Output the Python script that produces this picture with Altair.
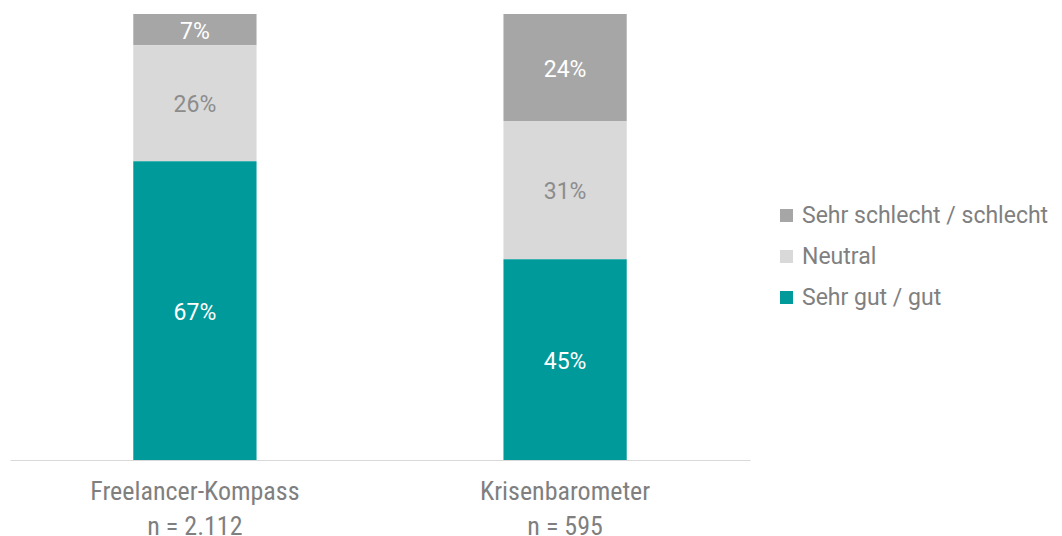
import altair as alt
import pandas as pd

groups = ["Freelancer-Kompass|n = 2.112", "Krisenbarometer|n = 595"]
categories = ["Sehr schlecht / schlecht", "Neutral", "Sehr gut / gut"]
stack_rank = [2, 1, 0]
colors = ["#A6A6A6", "#D9D9D9", "#009A9A"]
text_colors = ["#FFFFFF", "#8C8C8C", "#FFFFFF"]
values_fk = [7, 26, 67]
values_kb = [24, 31, 45]

rows = []
for g, vals in zip(groups, [values_fk, values_kb]):
    for c, r, v, tc in zip(categories, stack_rank, vals, text_colors):
        rows.append({"group": g, "cat": c, "rank": r, "value": v, "tcolor": tc})
df = pd.DataFrame(rows)

x = alt.X("group:N", sort=groups, title=None,
          scale=alt.Scale(paddingInner=0.667, paddingOuter=0.333),
          axis=alt.Axis(labelExpr="split(datum.label, '|')", labelAngle=0,
                        labelFont="Roboto Condensed, Liberation Sans Narrow, Roboto",
                        labelFontSize=26, labelColor="#7F7F7F", labelLimit=400,
                        labelPadding=18, labelLineHeight=35, ticks=False,
                        domainColor="#D9D9D9", domainWidth=1, grid=False))

bars = alt.Chart(df).mark_bar().encode(
    x=x,
    y=alt.Y("value:Q", stack="zero", scale=alt.Scale(domain=[0, 100]), axis=None),
    color=alt.Color("cat:N", scale=alt.Scale(domain=categories, range=colors),
                    legend=alt.Legend(title=None, orient="none", legendX=765, legendY=190,
                                      symbolType="square", symbolSize=169, symbolStrokeWidth=0,
                                      labelFont="Roboto", labelFontSize=23, labelColor="#808080",
                                      rowPadding=17, symbolOffset=0, labelOffset=4,
                                      labelLimit=400)),
    order=alt.Order("rank:Q", sort="ascending"),
)

texts = alt.Chart(df).transform_window(
    cum="sum(value)", sort=[alt.SortField("rank", order="ascending")], groupby=["group"]
).transform_calculate(
    mid="datum.cum - datum.value / 2",
    label="datum.value + '%'"
).mark_text(font="Roboto", fontSize=23, baseline="middle", dy=2).encode(
    x=alt.X("group:N", sort=groups),
    y=alt.Y("mid:Q"),
    text="label:N",
    color=alt.Color("tcolor:N", scale=None),
)

chart = alt.layer(bars, texts).properties(
    width=740, height=446,
    autosize=alt.AutoSizeParams(type="none"),
    padding={"left": 2, "top": 6, "right": 304, "bottom": 80},
).configure_view(stroke=None)

chart.save("out.html", embed_options={"renderer": "svg", "actions": False})
